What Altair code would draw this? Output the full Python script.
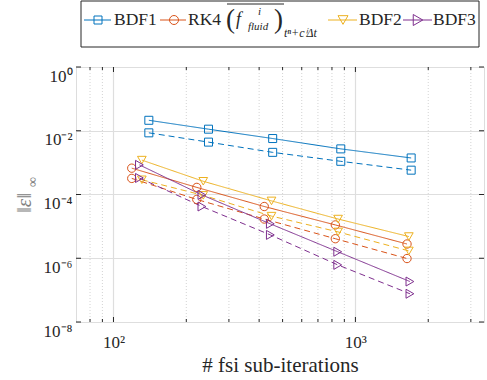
import altair as alt
import pandas as pd

# ---------------- data ----------------
methods = ["BDF1", "RK4", "BDF2", "BDF3"]

bdf1_iters = [140, 247, 455, 870, 1700]
rk4_iters = [119, 221, 420, 826, 1634]
bdf2_iters = [131, 235, 450, 848, 1663]
bdf3_iters = [128, 232, 445, 845, 1680]

bdf1_solid = [0.0213, 0.0112, 0.0057, 0.0027, 0.0014]
bdf1_dashed = [0.0086, 0.0044, 0.0021, 0.0011, 0.00058]
rk4_solid = [6.7e-4, 1.67e-4, 4.2e-5, 1.11e-5, 2.8e-6]
rk4_dashed = [3.2e-4, 7.0e-5, 1.7e-5, 4.1e-6, 9.8e-7]
bdf2_solid = [1.2e-3, 2.6e-4, 6.3e-5, 1.7e-5, 4.8e-6]
bdf2_dashed = [2.9e-4, 9.4e-5, 2.1e-5, 6.7e-6, 1.7e-6]
bdf3_solid = [8.5e-4, 9.7e-5, 1.2e-5, 1.6e-6, 1.86e-7]
bdf3_dashed = [3.3e-4, 4.2e-5, 5.4e-6, 6.2e-7, 7.7e-8]

x_major = [100, 1000]
x_major_labels = ["10²", "10³"]
x_minor = [80, 90, 200, 300, 400, 500, 600, 700, 800, 900, 2000, 3000]
y_major = [1, 1e-2, 1e-4, 1e-6, 1e-8]
y_major_labels = ["10⁰", "10⁻²", "10⁻⁴", "10⁻⁶", "10⁻⁸"]

# ---------------- styles ----------------
colors = ["#0072BD", "#D95319", "#EDB120", "#7E2F8E"]
shapes = ["square", "circle", "triangle-down", "triangle-right"]
sizes = [64, 81, 100, 121]
FONT = "Liberation Serif"
INK = "#262626"
W, H = 408, 255

iters = {"BDF1": bdf1_iters, "RK4": rk4_iters, "BDF2": bdf2_iters, "BDF3": bdf3_iters}
solid = {"BDF1": bdf1_solid, "RK4": rk4_solid, "BDF2": bdf2_solid, "BDF3": bdf3_solid}
dashed = {"BDF1": bdf1_dashed, "RK4": rk4_dashed, "BDF2": bdf2_dashed, "BDF3": bdf3_dashed}

rows = []
for m in methods:
    for variant, src in (("solid", solid), ("dashed", dashed)):
        for n, e in zip(iters[m], src[m]):
            rows.append({"method": m, "variant": variant, "n": n, "err": e})
df = pd.DataFrame(rows)

xscale = alt.Scale(type="log", domain=[70, 3400], nice=False)
yscale = alt.Scale(type="log", domain=[1e-8, 1], nice=False)

def ternary(vals, labels, expr):
    out = "''"
    for v, l in reversed(list(zip(vals, labels))):
        out = f"({expr} == {v} ? '{l}' : {out})"
    return out

x_label_expr = ternary([2, 3], x_major_labels, "round(log(datum.value)/LN10)")
y_label_expr = ternary([0, -2, -4, -6, -8], y_major_labels, "round(log(datum.value)/LN10)")

xaxis = alt.Axis(values=x_major, labelExpr=x_label_expr, grid=True, gridColor="#dedede",
                 gridWidth=1.2, ticks=False, domain=False, labelFont=FONT, labelFontSize=17,
                 labelColor=INK, labelPadding=12, labelAngle=0, labelFlush=False,
                 title="# fsi sub-iterations", titleFont=FONT, titleFontSize=21,
                 titleFontWeight="normal", titleColor=INK, titleBaseline="middle", titleY=43)
yaxis = alt.Axis(values=y_major, labelExpr=y_label_expr, grid=True, gridColor="#dedede",
                 gridWidth=1.2, ticks=False, domain=False, labelFont=FONT, labelFontSize=17,
                 labelColor=INK, labelPadding=4, labelBaseline="middle", labelOffset=9,
                 labelFlush=False, title=None)

def X(field):
    return alt.X(field, scale=xscale, axis=xaxis)

def Y(field):
    return alt.Y(field, scale=yscale, axis=yaxis)

color = alt.Color("method:N", scale=alt.Scale(domain=methods, range=colors), legend=None)

minor_df = pd.DataFrame({"v": x_minor})
minor_grid = alt.Chart(minor_df).mark_rule(strokeDash=[1, 2], color="#c8c8c8", strokeWidth=0.8).encode(
    x=X("v:Q"), y=alt.value(0), y2=alt.value(H))

lines = alt.Chart(df).mark_line(strokeWidth=1, clip=True).encode(
    x=X("n:Q"),
    y=Y("err:Q"),
    color=color,
    strokeDash=alt.StrokeDash("variant:N", scale=alt.Scale(domain=["solid", "dashed"],
                                                           range=[[1, 0], [6, 4]]), legend=None),
    detail="variant:N",
)
points = alt.Chart(df).mark_point(filled=False, strokeWidth=1, opacity=1).encode(
    x=X("n:Q"),
    y=Y("err:Q"),
    color=color,
    shape=alt.Shape("method:N", scale=alt.Scale(domain=methods, range=shapes), legend=None),
    size=alt.Size("method:N", scale=alt.Scale(domain=methods, range=sizes), legend=None),
)

# inward ticks
xmaj_df = pd.DataFrame({"v": x_major})
ymaj_df = pd.DataFrame({"v": y_major})
tick_layers = []
for d, L in ((xmaj_df, 5), (minor_df, 3)):
    tick_layers.append(alt.Chart(d).mark_rule(color=INK, strokeWidth=1).encode(
        x=X("v:Q"), y=alt.value(H), y2=alt.value(H - L)))
    tick_layers.append(alt.Chart(d).mark_rule(color=INK, strokeWidth=1).encode(
        x=X("v:Q"), y=alt.value(0), y2=alt.value(L)))
tick_layers.append(alt.Chart(ymaj_df).mark_rule(color=INK, strokeWidth=1).encode(
    y=Y("v:Q"), x=alt.value(0), x2=alt.value(5)))
tick_layers.append(alt.Chart(ymaj_df).mark_rule(color=INK, strokeWidth=1).encode(
    y=Y("v:Q"), x=alt.value(W), x2=alt.value(W - 5)))

# y title (‖ε‖ with ∞ subscript)
ytitle = [
    alt.Chart().mark_text(text="‖ε‖", font=FONT, fontSize=21, fontStyle="italic", angle=270,
                          color="#808080", baseline="middle", align="center").encode(
        x=alt.value(-51), y=alt.value(136)),
    alt.Chart().mark_text(text="∞", font=FONT, fontSize=14, angle=270,
                          color="#808080", baseline="middle", align="center").encode(
        x=alt.value(-43), y=alt.value(115)),
]

# custom legend
LY = -47
leg_geom = [  # line start, line end, marker x, label x  (pixels, relative to plot)
    (8, 35, 22, 38),
    (84, 110, 98, 112),
    (252, 281, 267, 283),
    (327, 356, 342, 357),
]
legend = [alt.Chart().mark_rect(fill="white", stroke=INK, strokeWidth=1).encode(
    x=alt.value(5), x2=alt.value(403), y=alt.value(-66), y2=alt.value(-20))]
for m, c, s, sz, (a, b, xm, xl) in zip(methods, colors, shapes, sizes, leg_geom):
    legend.append(alt.Chart().mark_rule(color=c, strokeWidth=1).encode(
        x=alt.value(a), x2=alt.value(b), y=alt.value(LY)))
    legend.append(alt.Chart().mark_point(shape=s, filled=False, color=c, size=sz, strokeWidth=1,
                                         opacity=1).encode(x=alt.value(xm), y=alt.value(LY)))
    legend.append(alt.Chart().mark_text(text=m, font=FONT, fontSize=17.5, color=INK, align="left",
                                        baseline="middle").encode(x=alt.value(xl), y=alt.value(LY)))

formula = [
    ("(", 150, -47, 27, "normal"),
    ("f", 160, -47, 18, "italic"),
    ("i", 182, -55, 11, "italic"),
    ("fluid", 172, -40, 11, "italic"),
    (")", 198, -47, 27, "normal"),
    ("tⁿ+cⁱΔt", 208, -34, 12, "italic"),
]
for t, xx, yy, fs, st in formula:
    legend.append(alt.Chart().mark_text(text=t, font=FONT, fontSize=fs, fontStyle=st, color=INK,
                                        align="left", baseline="middle").encode(
        x=alt.value(xx), y=alt.value(yy)))
legend.append(alt.Chart().mark_rule(color=INK, strokeWidth=1).encode(
    x=alt.value(151), x2=alt.value(208), y=alt.value(-63)))

chart = alt.layer(minor_grid, lines, points, *tick_layers, *ytitle, *legend).properties(
    width=W, height=H,
    autosize=alt.AutoSizeParams(type="none"),
    padding={"left": 76, "top": 67, "right": 3, "bottom": 58},
).configure_view(stroke=INK, strokeWidth=1).configure_axis(
    labelFont=FONT, titleFont=FONT
).configure(background="white", font=FONT)

chart.save("out.html", embed_options={"renderer": "svg", "actions": False})
